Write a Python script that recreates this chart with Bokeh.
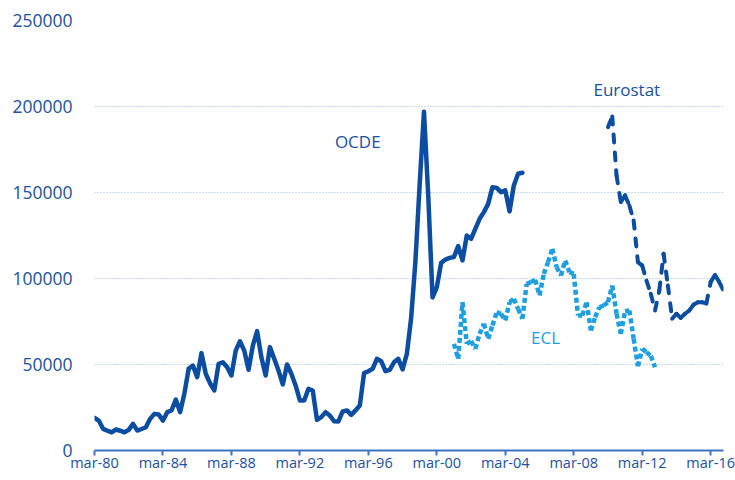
from bokeh.plotting import figure
from bokeh.models import Range1d, FixedTicker, BasicTickFormatter
from bokeh.core.properties import value
from bokeh.embed import file_html
from bokeh.resources import INLINE

# ---- data (quarterly, first point of each year = March) ----
ocde_start = 1980.0
ocde = [19000, 17400, 12600, 11500,
        10600, 12200, 11500, 10600,
        12000, 15500, 11600, 12500,
        13500, 18400, 21300, 20900,
        17400, 22300, 23300, 29600,
        22300, 33000, 47500, 49400,
        42600, 56600, 44600, 39100,
        34900, 50400, 51300, 48400,
        43600, 58100, 63500, 58100,
        46900, 61000, 69400, 54200,
        43600, 60100, 53300, 46500,
        38400, 50000, 44600, 37800,
        29100, 29100, 35900, 34900,
        17800, 19400, 22300, 20300,
        17000, 16900, 22700, 23300,
        20700, 23300, 26200, 45000,
        46100, 47500, 53300, 51900,
        46100, 46900, 51300, 53300,
        47100, 56200, 77000, 110000,
        155000, 197000, 148000, 89000,
        95000, 109000, 111000, 112000,
        112500, 118800, 110500, 125000,
        123100, 128900, 134700, 138600,
        143400, 153100, 152700, 150200,
        151200, 139000, 154100, 160900,
        161500]

eurostat_start = 2010.0
eurostat = [188000, 194200, 160000, 144400,
            148300, 142400, 133700, 109500,
            107500, 98800, 91100, 81400,
            93000, 114400, 96000, 76600,
            79500, 77100, 79500, 81400,
            84800, 86200, 86200, 85500,
            97900, 102100, 97900, 93000]

ecl_start = 2001.0
ecl = [62000, 53300, 86200, 62000,
       63600, 59100, 67800, 73700,
       64900, 72700, 80400, 79500,
       75600, 86200, 88200, 82400,
       76600, 96900, 97900, 99200,
       90100, 102700, 109500, 117300,
       106600, 101700, 110500, 103700,
       102700, 78500, 78500, 86200,
       69800, 77500, 83300, 84300,
       86200, 95900, 79500, 67800,
       81000, 81400, 65000, 49000,
       59100, 57200, 55000, 48400]

tick_years = [1980, 1984, 1988, 1992, 1996, 2000, 2004, 2008, 2012, 2016]
tick_labels = ["mar-80", "mar-84", "mar-88", "mar-92", "mar-96",
               "mar-00", "mar-04", "mar-08", "mar-12", "mar-16"]
y_ticks = [0, 50000, 100000, 150000, 200000, 250000]

labels = ["OCDE", "Eurostat", "ECL"]


def quarters(start, vals):
    return [start + 0.25 * i for i in range(len(vals))]


def segments(xs, ys):
    return ([[xs[i], xs[i + 1]] for i in range(len(xs) - 1)],
            [[ys[i], ys[i + 1]] for i in range(len(ys) - 1)])


DARK = "#0C4DA1"
LIGHT = "#1D9FE0"
TXT = "#23509C"
FONT = value("Open Sans")

p = figure(width=735, height=478, output_backend="svg", toolbar_location=None,
           x_range=Range1d(1980, 2016.75), y_range=Range1d(0, 250000),
           min_border_left=94, min_border_right=12, min_border_top=20,
           min_border_bottom=28)
p.outline_line_color = None
p.background_fill_color = "white"
p.border_fill_color = "white"

# axes
p.xaxis.ticker = FixedTicker(ticks=tick_years)
p.xaxis.major_label_overrides = {y: l for y, l in zip(tick_years, tick_labels)}
p.xaxis.axis_line_color = "#3F73C2"
p.xaxis.axis_line_width = 2
p.xaxis.major_tick_line_color = "#3F73C2"
p.xaxis.major_tick_line_width = 2
p.xaxis.major_tick_out = 5
p.xaxis.major_tick_in = 0
p.xaxis.minor_tick_line_color = None
p.xaxis.major_label_standoff = -3
p.xaxis.major_label_text_font = "Open Sans"
p.xaxis.major_label_text_font_size = "14.5px"
p.xaxis.major_label_text_color = TXT

p.yaxis.ticker = FixedTicker(ticks=y_ticks)
p.yaxis.formatter = BasicTickFormatter(use_scientific=False)
p.yaxis.axis_line_color = None
p.yaxis.major_tick_line_color = None
p.yaxis.minor_tick_line_color = None
p.yaxis.major_label_standoff = 16
p.yaxis.major_label_text_font = "Open Sans"
p.yaxis.major_label_text_font_size = "17.5px"
p.yaxis.major_label_text_color = TXT

p.xgrid.grid_line_color = None
p.ygrid.grid_line_color = "#8DB8E6"
p.ygrid.grid_line_dash = "1 2"
p.ygrid.grid_line_width = 1

# OCDE solid
p.line(quarters(ocde_start, ocde), ocde, line_color=DARK, line_width=4.5,
       line_join="round", line_cap="round")

# Eurostat dashed (pattern restarts each segment, as in the original)
exs, eys = segments(quarters(eurostat_start, eurostat), eurostat)
p.multi_line(exs, eys, line_color=DARK, line_width=4, line_dash="8 10",
             line_cap="round", line_join="round")

# ECL dotted (square dots)
cxs, cys = segments(quarters(ecl_start, ecl), ecl)
p.multi_line(cxs, cys, line_color=LIGHT, line_width=4.5, line_dash="5 3",
             line_cap="butt")

# series labels
p.text(x=[1995.38], y=[179700], text=[labels[0]], text_font=FONT,
       text_font_size="17px", text_color=TXT, text_align="center",
       text_baseline="middle")
p.text(x=[2011.1], y=[209900], text=[labels[1]], text_font=FONT,
       text_font_size="17px", text_color=TXT, text_align="center",
       text_baseline="middle")
p.text(x=[2006.35], y=[65700], text=[labels[2]], text_font=FONT,
       text_font_size="17px", text_color=LIGHT, text_align="center",
       text_baseline="middle")

open("out.html", "w").write(file_html(p, INLINE))
